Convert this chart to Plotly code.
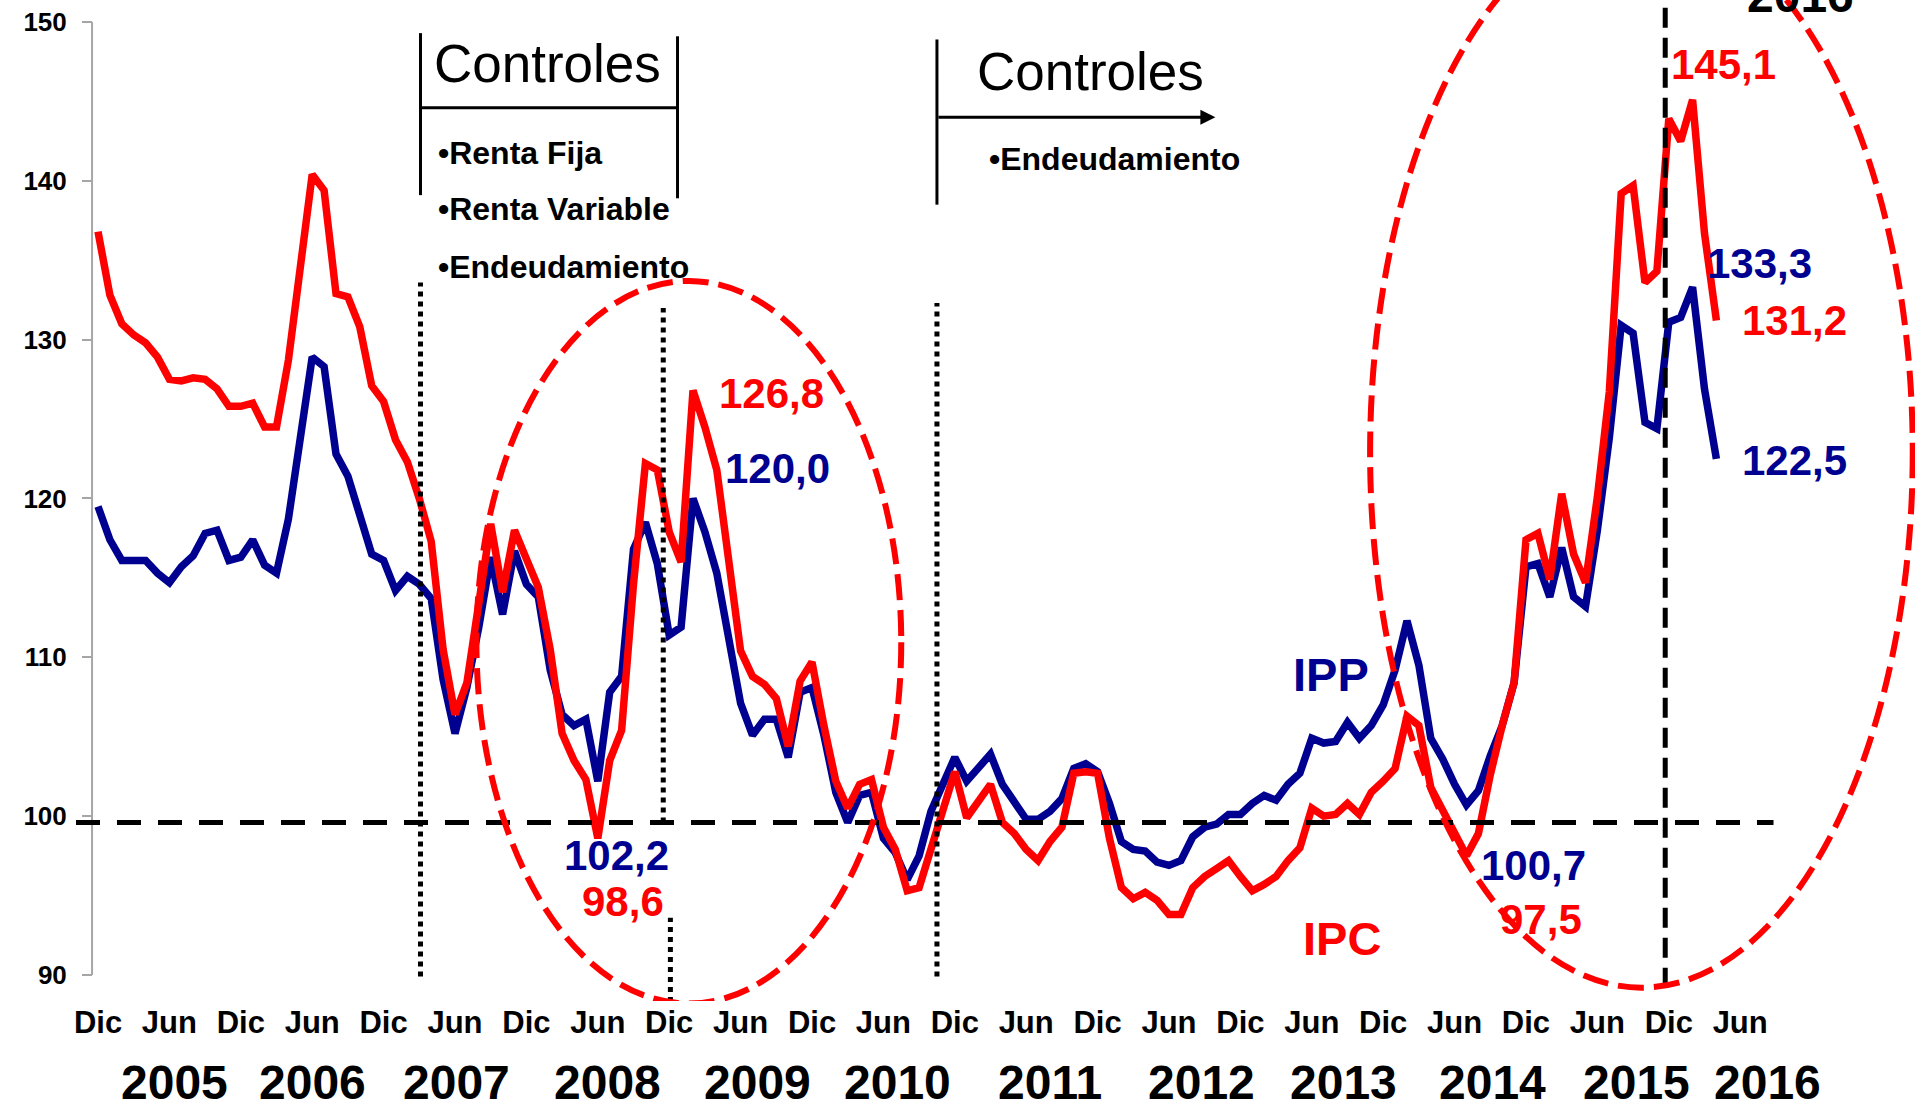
import plotly.graph_objects as go

# IPC / IPP indices, monthly from Dic 2004 to Abr 2016 (x = month number)
ipc = [136.8, 132.8, 131.0, 130.3, 129.8, 128.9, 127.5, 127.4, 127.6, 127.5,
       126.9, 125.8, 125.8, 126.0, 124.5, 124.5, 128.7, 134.5, 140.4, 139.4,
       132.9, 132.7, 130.8, 127.1, 126.1, 123.7, 122.3, 120.0, 117.3, 110.5,
       106.4, 108.4, 113.2, 118.4, 114.1, 118.0, 116.2, 114.4, 110.5, 105.2,
       103.5, 102.3, 98.6, 103.5, 105.4, 114.6, 122.2, 121.8, 117.9, 116.0,
       126.8, 124.5, 121.8, 116.0, 110.4, 108.8, 108.3, 107.4, 104.4, 108.5,
       109.7, 105.7, 102.2, 100.5, 102.0, 102.3, 99.3, 97.9, 95.3, 95.5,
       98.0, 100.6, 102.8, 99.9, 101.0, 102.0, 99.6, 98.9, 97.9, 97.2,
       98.4, 99.3, 102.7, 102.8, 102.7, 98.6, 95.5, 94.8, 95.2, 94.7,
       93.8, 93.8, 95.5, 96.2, 96.7, 97.2, 96.2, 95.3, 95.7, 96.2,
       97.2, 98.0, 100.5, 100.0, 100.1, 100.8, 100.1, 101.5, 102.2, 103.0,
       106.3, 105.7, 101.8, 100.3, 98.9, 97.5, 98.9, 102.6, 105.7, 108.4,
       117.4, 117.8, 114.9, 120.3, 116.5, 114.7, 120.1, 126.7, 139.2, 139.7,
       133.6, 134.3, 143.9, 142.5, 145.1, 136.7, 131.2]

ipp = [119.5, 117.4, 116.1, 116.1, 116.1, 115.3, 114.7, 115.7, 116.4, 117.8,
       118.0, 116.1, 116.3, 117.4, 115.8, 115.3, 118.7, 123.8, 128.9, 128.3,
       122.8, 121.4, 118.8, 116.5, 116.1, 114.2, 115.1, 114.6, 113.7, 108.6,
       105.2, 108.1, 111.9, 116.3, 112.7, 116.7, 114.6, 113.8, 109.2, 106.4,
       105.7, 106.1, 102.2, 107.8, 108.8, 116.8, 118.5, 115.9, 111.4, 111.9,
       120.0, 117.9, 115.3, 110.9, 107.1, 105.1, 106.1, 106.1, 103.7, 107.8,
       108.1, 105.1, 101.5, 99.6, 101.3, 101.5, 98.6, 97.7, 96.0, 97.5,
       100.3, 102.0, 103.7, 102.2, 103.0, 103.9, 102.0, 100.8, 99.8, 99.8,
       100.3, 101.1, 103.0, 103.3, 102.8, 100.8, 98.4, 97.9, 97.8, 97.1,
       96.9, 97.2, 98.7, 99.3, 99.5, 100.1, 100.1, 100.8, 101.3, 101.0,
       102.0, 102.7, 104.9, 104.6, 104.7, 105.9, 104.9, 105.7, 107.0, 109.2,
       112.3, 109.5, 104.9, 103.6, 102.0, 100.7, 101.6, 103.8, 105.7, 108.4,
       115.7, 115.9, 113.8, 116.9, 113.8, 113.2, 118.0, 123.8, 130.9, 130.4,
       124.8, 124.4, 131.1, 131.4, 133.3, 126.9, 122.5]

meses = list(range(len(ipc)))
tick_text = ["Dic", "Jun"] * 12
tick_vals = [6 * i for i in range(len(tick_text))]
years = ["2005", "2006", "2007", "2008", "2009", "2010",
         "2011", "2012", "2013", "2014", "2015", "2016"]
year_pos = [6.4, 18.0, 30.1, 42.8, 55.4, 67.2, 80.0, 92.7, 104.7, 117.2, 129.3, 140.3]

RED = "#FF0000"
BLUE = "#000090"
FONT = "Liberation Sans, Arial, sans-serif"

fig = go.Figure()
fig.add_trace(go.Scatter(x=meses, y=ipp, mode="lines", name="IPP",
                         line=dict(color=BLUE, width=7.5)))
fig.add_trace(go.Scatter(x=meses, y=ipc, mode="lines", name="IPC",
                         line=dict(color=RED, width=7.5)))

shapes = []
# y axis line only between 90 and 150
shapes.append(dict(type="line", x0=-0.5, x1=-0.5, y0=90, y1=150,
                   line=dict(color="#A6A6A6", width=2)))
# reference line at 100
shapes.append(dict(type="line", x0=-1.85, x1=140.8, y0=99.6, y1=99.6,
                   line=dict(color="black", width=5, dash="24px,17px")))
# dotted verticals
for x, y0, y1 in [(27.1, 89.9, 133.6), (47.5, 99.6, 132.0), (48.1, 88.3, 93.6), (70.5, 89.9, 132.3)]:
    shapes.append(dict(type="line", x0=x, x1=x, y0=y0, y1=y1,
                       line=dict(color="black", width=5, dash="5px,5px")))
# dashed vertical at Dic 2015
shapes.append(dict(type="line", x0=131.7, x1=131.7, y0=89.2, y1=152.5,
                   line=dict(color="black", width=5, dash="20px,10px")))
# red ellipses
shapes.append(dict(type="circle", x0=31.8, x1=67.5, y0=88.2, y1=133.7,
                   line=dict(color=RED, width=6, dash="26px,10px")))
shapes.append(dict(type="circle", x0=106.9, x1=152.5, y0=89.2, y1=156.6,
                   line=dict(color=RED, width=6, dash="26px,10px")))
# "Controles" box 1
shapes.append(dict(type="line", x0=27.1, x1=27.1, y0=139.1, y1=149.3, line=dict(color="black", width=3)))
shapes.append(dict(type="line", x0=48.7, x1=48.7, y0=138.9, y1=149.1, line=dict(color="black", width=3)))
shapes.append(dict(type="line", x0=27.1, x1=48.7, y0=144.6, y1=144.6, line=dict(color="black", width=3)))
# "Controles" box 2
shapes.append(dict(type="line", x0=70.5, x1=70.5, y0=138.5, y1=148.9, line=dict(color="black", width=3)))

ann = []
def txt(x, y, s, size, color="black", bold=True, xanchor="center"):
    ann.append(dict(x=x, y=y, text=s, showarrow=False, xanchor=xanchor, yanchor="middle",
                    font=dict(family=FONT, size=size, color=color,
                              weight="bold" if bold else "normal")))

txt(37.8, 147.4, "Controles", 53, bold=False)
txt(28.4, 141.75, "•Renta Fija", 32, xanchor="left")
txt(28.4, 138.2, "•Renta Variable", 32, xanchor="left")
txt(28.4, 134.6, "•Endeudamiento", 32, xanchor="left")
txt(83.4, 146.9, "Controles", 53, bold=False)
txt(74.7, 141.4, "•Endeudamiento", 32, xanchor="left")

txt(56.6, 126.6, "126,8", 42, RED)
txt(57.1, 121.9, "120,0", 42, BLUE)
txt(43.6, 97.5, "102,2", 42, BLUE)
txt(44.1, 94.6, "98,6", 42, RED)
txt(103.6, 108.9, "IPP", 47, BLUE)
txt(104.5, 92.3, "IPC", 47, RED)
txt(120.6, 96.9, "100,7", 42, BLUE)
txt(121.3, 93.5, "97,5", 42, RED)
txt(136.6, 147.3, "145,1", 42, RED)
txt(139.6, 134.8, "133,3", 42, BLUE)
txt(142.6, 131.2, "131,2", 42, RED)
txt(142.6, 122.4, "122,5", 42, BLUE)

# "2016" label cut at the top edge of the picture
ann.append(dict(x=143.1, y=1, xref="x", yref="paper", yshift=5, text="2016",
                showarrow=False, yanchor="middle",
                font=dict(family=FONT, size=48, color="black", weight="bold")))

# arrow of second box
ann.append(dict(x=93.9, y=144.0, ax=70.5, ay=144.0, axref="x", ayref="y",
                showarrow=True, arrowhead=2, arrowsize=1, arrowwidth=3,
                arrowcolor="black", text=""))

for yr, xp in zip(years, year_pos):
    ann.append(dict(x=xp, y=0, xref="x", yref="paper", yshift=-81, text=yr,
                    showarrow=False, yanchor="middle",
                    font=dict(family=FONT, size=48, color="black", weight="bold")))

fig.update_layout(
    width=1915, height=1104,
    margin=dict(l=0, r=0, t=0, b=103),
    plot_bgcolor="white", paper_bgcolor="white",
    showlegend=False,
    shapes=shapes, annotations=ann,
    xaxis=dict(domain=[70 / 1915, 1], range=[-2.353, 152.69], automargin=False,
               showgrid=False, zeroline=False, showline=False,
               tickvals=tick_vals, ticktext=tick_text, ticks="",
               tickfont=dict(family=FONT, size=31, color="black", weight="bold")),
    yaxis=dict(range=[88.36, 151.385], anchor="free", position=92 / 1915, automargin=False,
               showgrid=False, zeroline=False, showline=False,
               tickvals=[90, 100, 110, 120, 130, 140, 150],
               ticks="outside", ticklen=10, tickwidth=2, tickcolor="#A6A6A6",
               ticklabelstandoff=10,
               tickfont=dict(family=FONT, size=26, color="black", weight="bold")),
)

# the page body has a default 8px margin; remove it so the chart fills the window
fig.write_html("out.html", config={"displayModeBar": False},
               post_script="document.body.style.margin='0';")
